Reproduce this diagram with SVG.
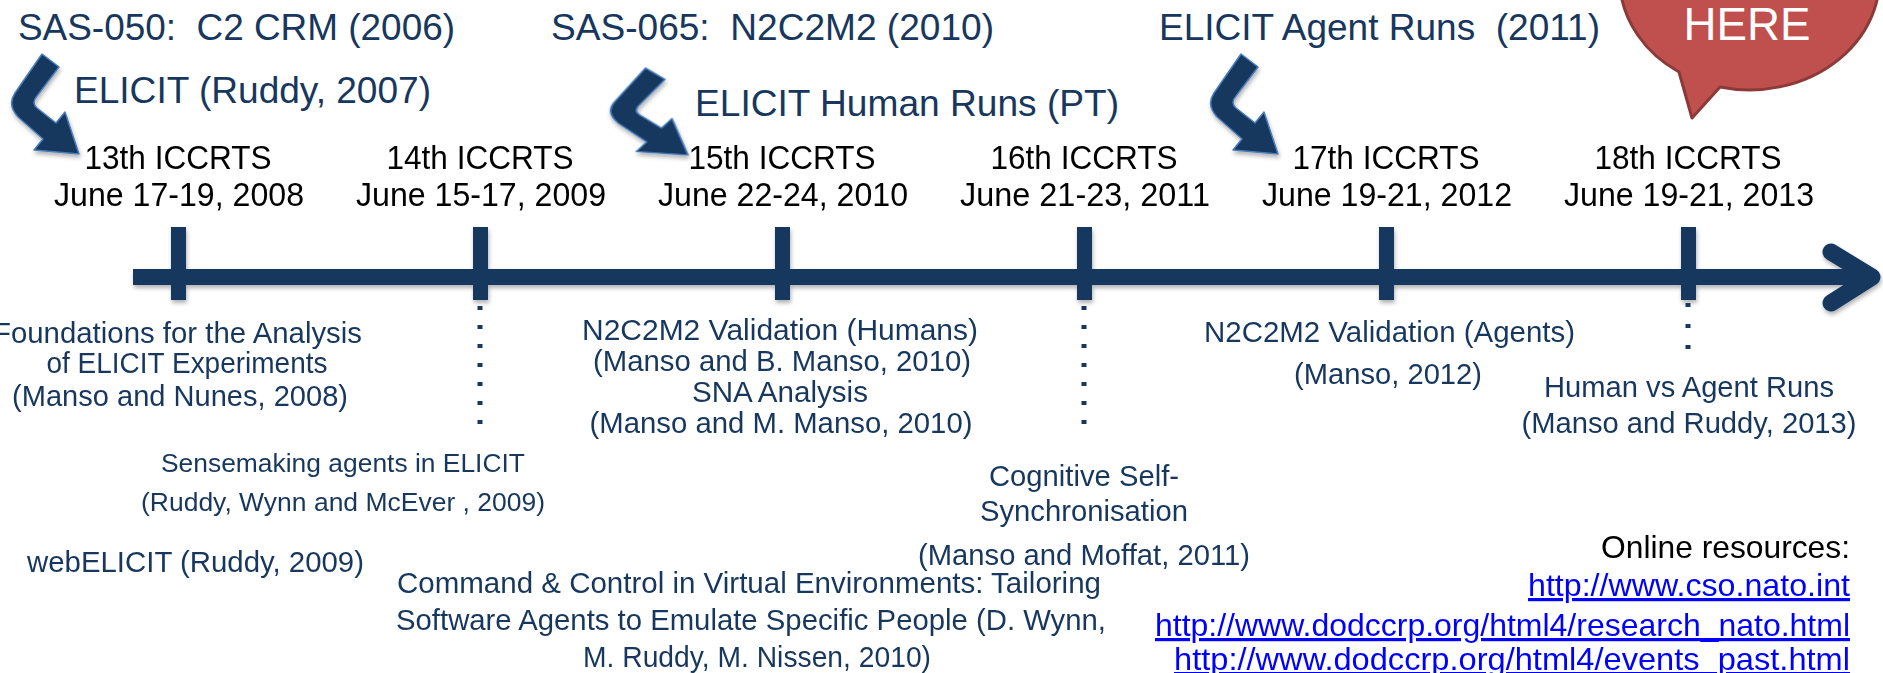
<svg xmlns="http://www.w3.org/2000/svg" xmlns:xlink="http://www.w3.org/1999/xlink" width="1883" height="673" viewBox="0 0 1883 673">
  <style>
    text { font-family: "Liberation Sans", Arial, sans-serif; }
    .top { font-size: 37px; fill: #17375E; }
    .conf { font-size: 33px; fill: #000000; text-anchor: middle; }
    .pub { font-size: 29px; fill: #17375E; }
    .small { font-size: 26.5px; }
    .mid { text-anchor: middle; }
    .link { font-size: 32px; fill: #0000FF; text-decoration: underline; text-anchor: end; }
    .res { font-size: 32px; fill: #000000; text-anchor: end; }
    .tick { fill: #17375E; }
    .dots { stroke: #17375E; stroke-width: 5; fill: none; }
  </style>
  <defs>
    <filter id="shadow" x="-10%" y="-20%" width="120%" height="160%">
      <feDropShadow dx="1" dy="3" stdDeviation="2" flood-color="#000000" flood-opacity="0.3"/>
    </filter>
    <!-- bent arrow: shaft runs down-left, elbows, then points down-right -->
    <path id="bent" d="M 40 54 L 57 67 L 35 96 Q 29 103 35 108 L 54 123 L 63 112 L 77 154 L 32 150 L 41 139 L 16 117 Q 5 105 13 93 Z" fill="#17375E" stroke="#4A7EBB" stroke-width="1.5" stroke-linejoin="round"/>
  </defs>

  <rect width="1883" height="673" fill="#FFFFFF"/>

  <!-- programme headings -->
  <g id="headings">
    <text class="top" x="18" y="40" textLength="437" lengthAdjust="spacingAndGlyphs" xml:space="preserve">SAS-050:  C2 CRM (2006)</text>
    <text class="top" x="551" y="40" textLength="443" lengthAdjust="spacingAndGlyphs" xml:space="preserve">SAS-065:  N2C2M2 (2010)</text>
    <text class="top" x="1159" y="40" textLength="441" lengthAdjust="spacingAndGlyphs" xml:space="preserve">ELICIT Agent Runs  (2011)</text>
    <text class="top" x="74" y="103" textLength="357" lengthAdjust="spacingAndGlyphs">ELICIT (Ruddy, 2007)</text>
    <text class="top" x="695" y="116" textLength="424" lengthAdjust="spacingAndGlyphs">ELICIT Human Runs (PT)</text>
  </g>

  <!-- speech bubble -->
  <g id="here-bubble">
    <path d="M 1679 72 L 1692 118 L 1720 87 A 130 112 0 1 0 1679 72 Z" fill="#C0504D" stroke="#8C3A38" stroke-width="3" stroke-linejoin="round"/>
    <text x="1747" y="40" font-size="47" fill="#FFFFFF" text-anchor="middle" textLength="127" lengthAdjust="spacingAndGlyphs">HERE</text>
  </g>

  <!-- bent arrows from each programme to the conference it fed -->
  <g id="connectors" filter="url(#shadow)">
    <use xlink:href="#bent" transform="translate(2,0)"/>
    <use xlink:href="#bent" transform="translate(688,155) scale(1.15,0.87) translate(-77,-154)"/>
    <use xlink:href="#bent" transform="translate(1201,0)"/>
  </g>

  <!-- timeline axis -->
  <g id="timeline" filter="url(#shadow)">
    <rect x="133" y="269" width="1738" height="16" fill="#17375E"/>
    <polyline points="1831,252 1872,277 1831,303" fill="none" stroke="#17375E" stroke-width="17" stroke-linecap="round" stroke-linejoin="round"/>
    <rect class="tick" x="171" y="227" width="15" height="73"/>
    <rect class="tick" x="473" y="227" width="15" height="73"/>
    <rect class="tick" x="775" y="227" width="15" height="73"/>
    <rect class="tick" x="1077" y="227" width="15" height="73"/>
    <rect class="tick" x="1379" y="227" width="15" height="73"/>
    <rect class="tick" x="1681" y="227" width="15" height="73"/>
  </g>

  <!-- dotted leaders under ticks -->
  <g id="leaders">
    <line class="dots" x1="480" y1="306" x2="480" y2="426" stroke-dasharray="4 15"/>
    <line class="dots" x1="1084" y1="306" x2="1084" y2="432" stroke-dasharray="4 15"/>
    <line class="dots" x1="1688" y1="303" x2="1688" y2="350" stroke-dasharray="4 17"/>
  </g>

  <!-- conferences -->
  <g id="iccrts-13">
    <text class="conf" x="178" y="169" textLength="187" lengthAdjust="spacingAndGlyphs">13th ICCRTS</text>
    <text class="conf" x="179" y="206" textLength="250" lengthAdjust="spacingAndGlyphs">June 17-19, 2008</text>
  </g>
  <g id="iccrts-14">
    <text class="conf" x="480" y="169" textLength="187" lengthAdjust="spacingAndGlyphs">14th ICCRTS</text>
    <text class="conf" x="481" y="206" textLength="250" lengthAdjust="spacingAndGlyphs">June 15-17, 2009</text>
  </g>
  <g id="iccrts-15">
    <text class="conf" x="782" y="169" textLength="187" lengthAdjust="spacingAndGlyphs">15th ICCRTS</text>
    <text class="conf" x="783" y="206" textLength="250" lengthAdjust="spacingAndGlyphs">June 22-24, 2010</text>
  </g>
  <g id="iccrts-16">
    <text class="conf" x="1084" y="169" textLength="187" lengthAdjust="spacingAndGlyphs">16th ICCRTS</text>
    <text class="conf" x="1085" y="206" textLength="250" lengthAdjust="spacingAndGlyphs">June 21-23, 2011</text>
  </g>
  <g id="iccrts-17">
    <text class="conf" x="1386" y="169" textLength="187" lengthAdjust="spacingAndGlyphs">17th ICCRTS</text>
    <text class="conf" x="1387" y="206" textLength="250" lengthAdjust="spacingAndGlyphs">June 19-21, 2012</text>
  </g>
  <g id="iccrts-18">
    <text class="conf" x="1688" y="169" textLength="187" lengthAdjust="spacingAndGlyphs">18th ICCRTS</text>
    <text class="conf" x="1689" y="206" textLength="250" lengthAdjust="spacingAndGlyphs">June 19-21, 2013</text>
  </g>

  <!-- publications -->
  <g id="pub-foundations">
    <text class="pub" x="-7" y="343" textLength="369" lengthAdjust="spacingAndGlyphs">Foundations for the Analysis</text>
    <text class="pub mid" x="187" y="373" font-size="28" textLength="281" lengthAdjust="spacingAndGlyphs">of ELICIT Experiments</text>
    <text class="pub mid" x="180" y="406" textLength="336" lengthAdjust="spacingAndGlyphs">(Manso and Nunes, 2008)</text>
  </g>
  <g id="pub-sensemaking">
    <text class="pub small mid" x="343" y="472" textLength="364" lengthAdjust="spacingAndGlyphs">Sensemaking agents in ELICIT</text>
    <text class="pub small mid" x="343" y="511" textLength="404" lengthAdjust="spacingAndGlyphs">(Ruddy, Wynn and McEver , 2009)</text>
  </g>
  <g id="pub-webelicit">
    <text class="pub" x="27" y="572" textLength="337" lengthAdjust="spacingAndGlyphs">webELICIT (Ruddy, 2009)</text>
  </g>
  <g id="pub-validation-humans">
    <text class="pub mid" x="780" y="340" textLength="396" lengthAdjust="spacingAndGlyphs">N2C2M2 Validation (Humans)</text>
    <text class="pub mid" x="782" y="371" textLength="378" lengthAdjust="spacingAndGlyphs">(Manso and B. Manso, 2010)</text>
    <text class="pub mid" x="780" y="402" textLength="176" lengthAdjust="spacingAndGlyphs">SNA Analysis</text>
    <text class="pub mid" x="781" y="433" textLength="383" lengthAdjust="spacingAndGlyphs">(Manso and M. Manso, 2010)</text>
  </g>
  <g id="pub-self-sync">
    <text class="pub mid" x="1084" y="486" textLength="190" lengthAdjust="spacingAndGlyphs">Cognitive Self-</text>
    <text class="pub mid" x="1084" y="521" textLength="208" lengthAdjust="spacingAndGlyphs">Synchronisation</text>
    <text class="pub mid" x="1084" y="565" textLength="332" lengthAdjust="spacingAndGlyphs">(Manso and Moffat, 2011)</text>
  </g>
  <g id="pub-virtual-env">
    <text class="pub" x="397" y="593" textLength="704" lengthAdjust="spacingAndGlyphs">Command &amp; Control in Virtual Environments: Tailoring</text>
    <text class="pub" x="396" y="630" textLength="710" lengthAdjust="spacingAndGlyphs">Software Agents to Emulate Specific People (D. Wynn,</text>
    <text class="pub" x="583" y="667" textLength="348" lengthAdjust="spacingAndGlyphs">M. Ruddy, M. Nissen, 2010)</text>
  </g>
  <g id="pub-validation-agents">
    <text class="pub" x="1204" y="342" textLength="371" lengthAdjust="spacingAndGlyphs">N2C2M2 Validation (Agents)</text>
    <text class="pub" x="1294" y="384" textLength="188" lengthAdjust="spacingAndGlyphs">(Manso, 2012)</text>
  </g>
  <g id="pub-human-vs-agent">
    <text class="pub mid" x="1689" y="397" textLength="290" lengthAdjust="spacingAndGlyphs">Human vs Agent Runs</text>
    <text class="pub mid" x="1689" y="433" textLength="335" lengthAdjust="spacingAndGlyphs">(Manso and Ruddy, 2013)</text>
  </g>

  <!-- online resources -->
  <g id="resources">
    <text class="res" x="1850" y="558" textLength="249" lengthAdjust="spacingAndGlyphs">Online resources:</text>
    <text class="link" x="1850" y="596" textLength="322" lengthAdjust="spacingAndGlyphs">http://www.cso.nato.int</text>
    <text class="link" x="1850" y="636" textLength="695" lengthAdjust="spacingAndGlyphs">http://www.dodccrp.org/html4/research_nato.html</text>
    <text class="link" x="1850" y="670" textLength="676" lengthAdjust="spacingAndGlyphs">http://www.dodccrp.org/html4/events_past.html</text>
  </g>
</svg>
